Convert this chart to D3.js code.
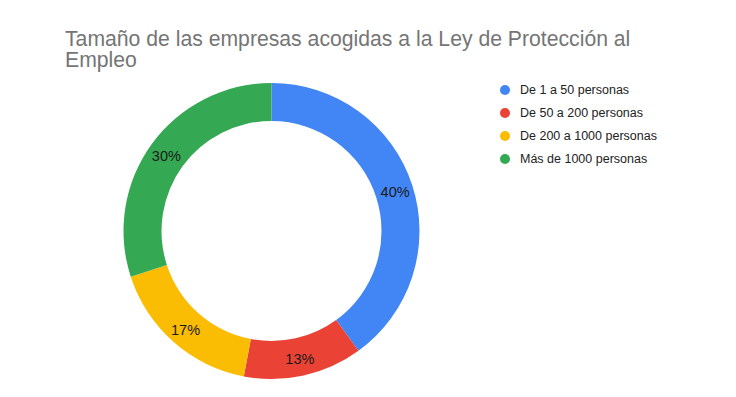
<!doctype html>
<html>
<head>
  <meta charset="utf-8">
  <script src="https://cdnjs.cloudflare.com/ajax/libs/d3/7.8.5/d3.min.js"></script>
  <style>
    body { margin: 0; background: white; }
    text { font-family: Arial, 'Liberation Sans', sans-serif; }
  </style>
</head>
<body>
  <script>
    const categories = ['De 1 a 50 personas', 'De 50 a 200 personas', 'De 200 a 1000 personas', 'Más de 1000 personas'];
    const values = [40, 13, 17, 30];
    const colors = ['#4285f4', '#ea4335', '#fbbc04', '#34a853'];
    const titleLines = ['Tamaño de las empresas acogidas a la Ley de Protección al', 'Empleo'];

    const width = 736, height = 397;
    const cx = 271.5, cy = 231;
    const outerR = 148, innerR = 110;

    let svg = d3.select('body').append('svg')
      .attr('width', width)
      .attr('height', height);

    svg.append('text')
      .attr('x', 65)
      .attr('y', 46)
      .attr('fill', '#757575')
      .style('font-size', '21.2px')
      .selectAll('tspan')
      .data(titleLines)
      .enter().append('tspan')
        .attr('x', 65)
        .attr('dy', (d, i) => i ? 21 : 0)
        .text(d => d);

    let data = categories.map((c, i) => ({name: c, value: values[i], color: colors[i]}));

    let pie = d3.pie().sort(null).value(d => d.value);
    let arc = d3.arc().innerRadius(innerR).outerRadius(outerR);
    let labelArc = d3.arc().innerRadius(130).outerRadius(130);

    let g = svg.append('g')
      .attr('transform', `translate(${cx},${cy})`);

    let slices = g.selectAll('g.slice').data(pie(data))
      .enter().append('g').attr('class', 'slice');

    slices.append('path')
      .attr('d', arc)
      .attr('fill', d => d.data.color);

    let total = d3.sum(values);
    slices.append('text')
      .attr('transform', d => `translate(${labelArc.centroid(d)})`)
      .attr('text-anchor', 'middle')
      .attr('dy', '0.45em')
      .attr('fill', '#1a1a1a')
      .style('font-size', '14.5px')
      .text(d => Math.round(d.data.value / total * 100) + '%');

    let legend = svg.append('g')
      .attr('transform', 'translate(505,90)');

    let items = legend.selectAll('g').data(data)
      .enter().append('g')
      .attr('transform', (d, i) => `translate(0,${i * 23})`);

    items.append('circle')
      .attr('r', 5)
      .attr('fill', d => d.color);

    items.append('text')
      .attr('x', 15)
      .attr('dy', '0.35em')
      .attr('fill', '#222')
      .style('font-size', '12.5px')
      .text(d => d.name);
  </script>
</body>
</html>
